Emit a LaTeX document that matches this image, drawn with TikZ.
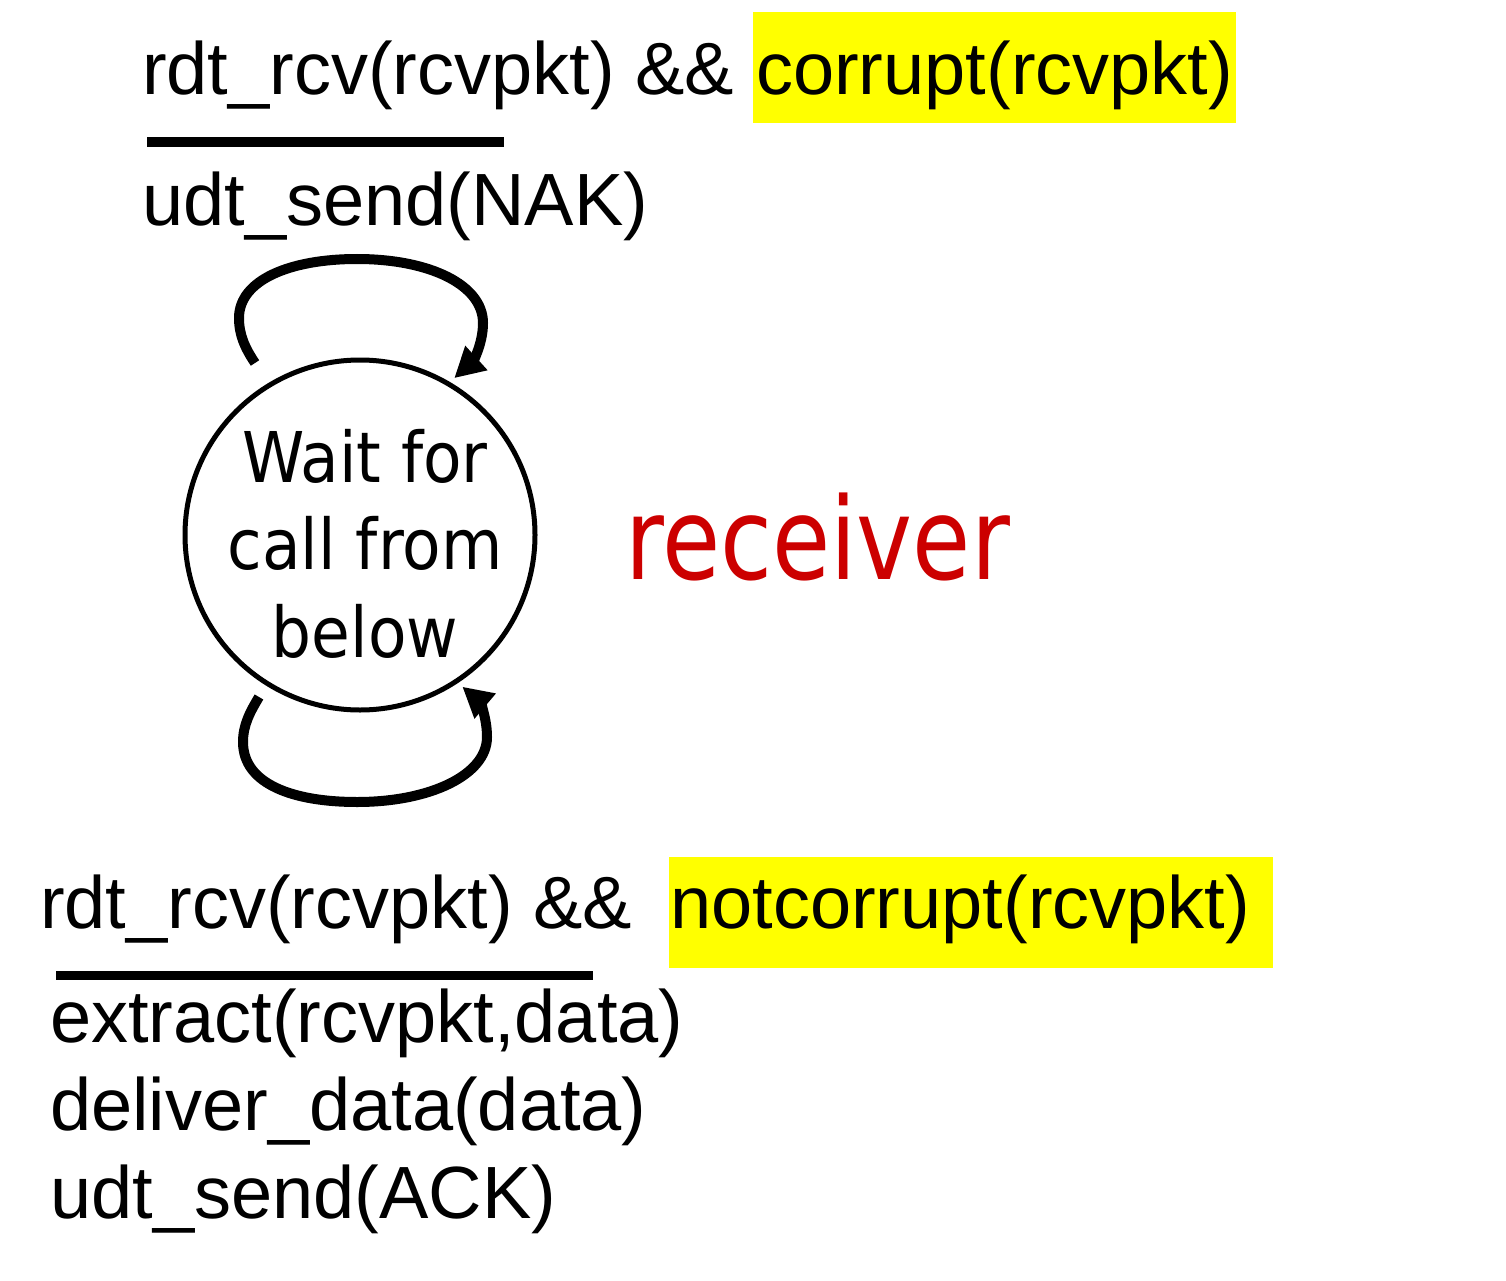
\documentclass[tikz,border=0pt]{standalone}
\usepackage{fontspec}
\usepackage{graphicx}
\setmainfont{Liberation Sans}
\newfontfamily\tah{DejaVu Sans}
\usetikzlibrary{arrows.meta}
\definecolor{hl}{RGB}{255,255,0}
\definecolor{rcvred}{RGB}{204,0,0}
\begin{document}
\begin{tikzpicture}[x=1pt,y=-1pt,
  lbl/.style={anchor=base west, inner sep=0pt, font=\fontsize{74}{88}\selectfont},
  hlbox/.style={lbl, fill=hl, inner xsep=3pt},
  bar/.style={line width=10pt},
  loopline/.style={line width=10pt, -{Triangle[length=30pt,width=31pt]}},
  statebox/.style={circle, draw, line width=5pt, minimum size=350pt, inner sep=0pt, outer sep=8pt}]
\useasboundingbox (0,0) rectangle (1506,1281);
% state
\node[statebox] (state) at (360,535) {};
\node[anchor=base, inner sep=0pt, font=\tah\fontsize{70}{87.5}\selectfont] (statetext) at (365,482)
  {\scalebox{0.9}[1]{\begin{tabular}[t]{@{}c@{}}Wait for\\call from\\below\end{tabular}}};
% top transition label
\node[lbl] (t1) at (142,95) {rdt\_rcv(rcvpkt) \&\&};
\node[hlbox, text height=83pt, text depth=28pt] (t1h) at (753,95) {corrupt(rcvpkt)};
\draw[bar] (147,142) -- (504,142);
\node[lbl] (t2) at (142,226) {udt\_send(NAK)};
% top self loop
\coordinate (ts) at (255,363);
\draw[loopline] (ts) .. controls (245,348) and (239,335) .. (239,318)
  .. controls (239,280) and (290,259) .. (357,259)
  .. controls (430,259) and (483,285) .. (483,323)
  .. controls (483,345) and (472,362) .. (state.59);
% bottom self loop
\coordinate (bs) at (259,697);
\draw[loopline] (bs) .. controls (250,712) and (243,725) .. (243,742)
  .. controls (243,785) and (295,802) .. (357,802)
  .. controls (430,802) and (487,775) .. (487,737)
  .. controls (487,715) and (478,700) .. (state.-56);
% receiver
\node[anchor=base west, inner sep=0pt, text=rcvred, font=\tah\fontsize{114}{130}\selectfont] (recv) at (625,579)
  {\scalebox{0.83}[1]{receiver}};
% bottom transition label
\node[lbl] (b1) at (40,928) {rdt\_rcv(rcvpkt) \&\&};
\node[hlbox, text height=71pt, text depth=40pt, inner xsep=1pt] (b1h) at (669,928) {notcorrupt(rcvpkt)\kern22pt};
\draw[bar, line width=9pt] (56,975) -- (593,975);
\node[lbl] (b2) at (50,1042)
  {\begin{tabular}[t]{@{}l@{}}extract(rcvpkt,data)\\deliver\_data(data)\\udt\_send(ACK)\end{tabular}};
\end{tikzpicture}
\end{document}
